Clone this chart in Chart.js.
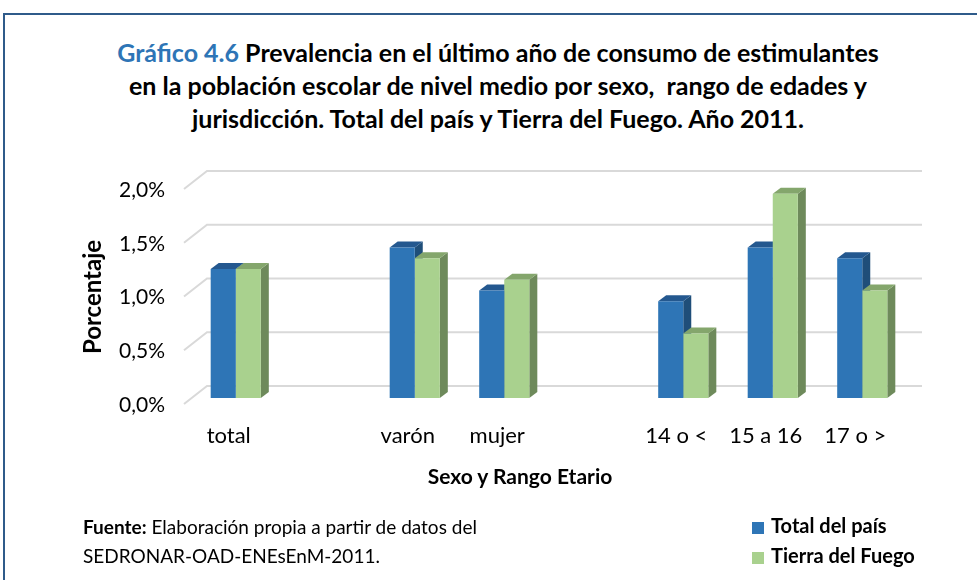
<!DOCTYPE html>
<html>
<head>
<meta charset="utf-8">
<script src="https://cdn.jsdelivr.net/npm/chart.js@4.4.1/dist/chart.umd.min.js"></script>
<style>
  html, body { margin: 0; padding: 0; background: #fff; }
  body { width: 977px; height: 580px; position: relative; overflow: hidden; font-family: Lato, "Open Sans", sans-serif; color: #000; }
  #frame { position: absolute; left: 3px; top: 13px; width: 1200px; height: 800px; border: 2px solid #2f5b8a; }
  #titulo { position: absolute; left: 0; width: 996px; top: 36px; text-align: center; font-weight: bold; font-size: 25px; line-height: 33px; }
  #titulo .num { color: #2e75b6; }
  #wrap { position: absolute; left: 0; top: 0; width: 977px; height: 580px; }
  #ejeX { position: absolute; left: 320px; width: 400px; top: 462px; text-align: center; font-weight: bold; font-size: 21px; line-height: 28px; }
  #ejeY { position: absolute; left: 92px; top: 297px; width: 200px; margin-left: -100px; margin-top: -14px; text-align: center; font-weight: bold; font-size: 24px; line-height: 28px; transform: rotate(-90deg); }
  #fuente { position: absolute; left: 83px; top: 512px; font-size: 19px; line-height: 29px; }
  #leyenda { position: absolute; left: 752px; top: 510px; font-size: 20px; font-weight: bold; line-height: 30px; }
  #leyenda .sw { display: inline-block; width: 12px; height: 12px; margin-right: 7px; vertical-align: -1px; }
</style>
</head>
<body>
<div id="frame"></div>
<div id="titulo"><span class="num">Gráfico 4.6</span> Prevalencia en el último año de consumo de estimulantes<br>en la población escolar de nivel medio por sexo,&nbsp; rango de edades y<br>jurisdicción. Total del país y Tierra del Fuego. Año 2011.</div>
<div id="wrap"><canvas id="grafico" width="977" height="580"></canvas></div>
<div id="ejeX">Sexo y Rango Etario</div>
<div id="ejeY">Porcentaje</div>
<div id="fuente"><b>Fuente:</b> Elaboración propia a partir de datos del<br>SEDRONAR-OAD-ENEsEnM-2011.</div>
<div id="leyenda"></div>
<script>
var categorias = ['total', '', 'varón', 'mujer', '', '14 o <', '15 a 16', '17 o >'];
var totalPais = [1.2, null, 1.4, 1.0, null, 0.9, 1.4, 1.3];
var tierraFuego = [1.2, null, 1.3, 1.1, null, 0.6, 1.9, 1.0];
var ticksY = [0, 0.5, 1.0, 1.5, 2.0];

var colores = [
  { frente: '#2e75b6', arriba: '#24588f', lado: '#1f4e79' },
  { frente: '#a9d18e', arriba: '#84a66c', lado: '#6e8a5b' }
];

// grilla en perspectiva y caras laterales de las barras
var efecto3d = {
  id: 'efecto3d',
  beforeDatasetsDraw: function (chart) {
    var ctx = chart.ctx;
    var ys = chart.scales.y;
    var area = chart.chartArea;
    ctx.save();
    ctx.strokeStyle = '#d9d9d9';
    ctx.lineWidth = 2;
    ticksY.forEach(function (v) {
      var y = ys.getPixelForValue(v);
      ctx.beginPath();
      ctx.moveTo(area.left - 7, y + 6);
      ctx.lineTo(area.left + 16, y - 12);
      ctx.lineTo(area.right + 15, y - 12);
      ctx.stroke();
    });
    var dx = 8, dy = -6;
    var metas = [chart.getDatasetMeta(0), chart.getDatasetMeta(1)];
    for (var i = 0; i < categorias.length; i++) {
      metas.forEach(function (meta, k) {
        var bar = meta.data[i];
        if (!bar || chart.data.datasets[k].data[i] == null) return;
        var p = bar.getProps(['x', 'y', 'base', 'width'], true);
        var l = p.x - p.width / 2, r = p.x + p.width / 2;
        ctx.fillStyle = colores[k].lado;
        ctx.beginPath();
        ctx.moveTo(r, p.y);
        ctx.lineTo(r + dx, p.y + dy);
        ctx.lineTo(r + dx, p.base + dy);
        ctx.lineTo(r, p.base);
        ctx.closePath();
        ctx.fill();
        ctx.fillStyle = colores[k].arriba;
        ctx.beginPath();
        ctx.moveTo(l, p.y);
        ctx.lineTo(l + dx, p.y + dy);
        ctx.lineTo(r + dx, p.y + dy);
        ctx.lineTo(r, p.y);
        ctx.closePath();
        ctx.fill();
      });
    }
    ctx.restore();
  }
};

var ctx = document.getElementById('grafico').getContext('2d');
var grafico = new Chart(ctx, {
  type: 'bar',
  data: {
    labels: categorias,
    datasets: [{
      label: 'Total del país',
      data: totalPais,
      backgroundColor: colores[0].frente,
      borderWidth: 0
    }, {
      label: 'Tierra del Fuego',
      data: tierraFuego,
      backgroundColor: colores[1].frente,
      borderWidth: 0
    }]
  },
  options: {
    responsive: false,
    animation: false,
    events: [],
    layout: { padding: { left: 74, right: 70, top: 183, bottom: 88 } },
    datasets: { bar: { categoryPercentage: 0.56, barPercentage: 1.0 } },
    plugins: {
      legend: { display: false },
      tooltip: { enabled: false }
    },
    scales: {
      x: {
        grid: { display: false, drawTicks: false },
        border: { display: false },
        ticks: {
          color: '#000',
          font: { family: 'Lato', size: 22 },
          padding: 25,
          labelOffset: -7,
          maxRotation: 0,
          autoSkip: false
        },
        afterFit: function (scale) { scale.height = 94; }
      },
      y: {
        min: 0,
        max: 2.0,
        grid: { display: false, drawTicks: false },
        border: { display: false },
        afterBuildTicks: function (scale) {
          scale.ticks = ticksY.map(function (v) { return { value: v }; });
        },
        ticks: {
          color: '#000',
          font: { family: 'Lato', size: 21 },
          padding: 26,
          labelOffset: 7,
          callback: function (value) {
            return value.toFixed(1).replace('.', ',') + '%';
          }
        },
        afterFit: function (scale) { scale.width = 117; }
      }
    }
  },
  plugins: [efecto3d]
});

// leyenda a partir de los datasets
var leyenda = document.getElementById('leyenda');
grafico.data.datasets.forEach(function (ds) {
  var fila = document.createElement('div');
  fila.innerHTML = '<span class="sw" style="background:' + ds.backgroundColor + '"></span>' + ds.label;
  leyenda.appendChild(fila);
});
</script>
</body>
</html>
